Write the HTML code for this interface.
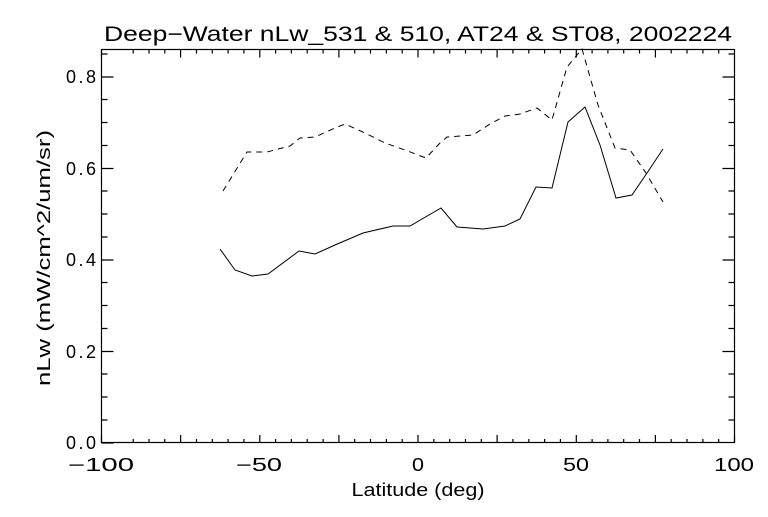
<!DOCTYPE html>
<html><head><style>
body{margin:0;background:#fff}
svg text{font-family:"Liberation Sans",sans-serif;fill:#000}
</style></head><body>
<svg width="768" height="512" viewBox="0 0 768 512" xmlns="http://www.w3.org/2000/svg">
<rect width="768" height="512" fill="#fff"/>
<text x="418" y="41" font-size="21" text-anchor="middle" textLength="628" lengthAdjust="spacingAndGlyphs">Deep−Water nLw_531 &amp; 510, AT24 &amp; ST08, 2002224</text>
<g stroke="#000" stroke-width="1.2" fill="none">
<rect x="101.5" y="49.5" width="633" height="393"/>
<path d="M101.5 443v-8M180.6 443v-8M259.8 443v-8M338.9 443v-8M418 443v-8M497.1 443v-8M576.3 443v-8M655.4 443v-8M734.5 443v-8"/>
<path d="M101.5 49.5v8M180.6 49.5v8M259.8 49.5v8M338.9 49.5v8M418 49.5v8M497.1 49.5v8M576.3 49.5v8M655.4 49.5v8"/>
<path d="M133.2 443v-4M149 443v-4M164.8 443v-4M196.5 443v-4M212.3 443v-4M228.1 443v-4M243.9 443v-4M275.6 443v-4M291.4 443v-4M307.2 443v-4M323.1 443v-4M354.7 443v-4M370.5 443v-4M386.4 443v-4M402.2 443v-4M433.8 443v-4M449.7 443v-4M465.5 443v-4M481.3 443v-4"/>
<path d="M101.5 443h12M101.5 351.5h12M101.5 260h12M101.5 168.5h12M101.5 77h12"/>
<path d="M101.5 420h6M101.5 397h6M101.5 374h6M101.5 328.5h6M101.5 305.5h6M101.5 282.5h6M101.5 237h6M101.5 214h6M101.5 191h6M101.5 145.5h6M101.5 122.5h6M101.5 99.5h6M101.5 54h6"/>
<path d="M734.5 351.5h-12M734.5 260h-12M734.5 168.5h-12M734.5 77h-12"/>
<path d="M734.5 420h-6M734.5 397h-6M734.5 374h-6M734.5 328.5h-6M734.5 305.5h-6M734.5 282.5h-6M734.5 237h-6M734.5 214h-6M734.5 191h-6M734.5 145.5h-6M734.5 122.5h-6M734.5 99.5h-6M734.5 54h-6"/>
<path d="M512.9 443v-4M528.8 443v-4M544.6 443v-4M560.4 443v-4M592.1 443v-4M607.9 443v-4M623.7 443v-4M639.5 443v-4M671.2 443v-4M687 443v-4M702.9 443v-4M718.7 443v-4"/>
<path d="M133.2 49.5v4M149 49.5v4M164.8 49.5v4M196.5 49.5v4M212.3 49.5v4M228.1 49.5v4M243.9 49.5v4M275.6 49.5v4M291.4 49.5v4M307.2 49.5v4M323.1 49.5v4M354.7 49.5v4M370.5 49.5v4M386.4 49.5v4M402.2 49.5v4M433.8 49.5v4M449.7 49.5v4M465.5 49.5v4M481.3 49.5v4M512.9 49.5v4M528.8 49.5v4M544.6 49.5v4M560.4 49.5v4M592.1 49.5v4M607.9 49.5v4M623.7 49.5v4M639.5 49.5v4M671.2 49.5v4M687 49.5v4M702.9 49.5v4M718.7 49.5v4"/>
<polyline stroke-width="1" points="220,249 235,270 252,276 268,274 299,251 315,254 335,245 363,233 393,226 410,226 441,208 457,227 483,229 505,226 520,219 536,187 552,188 568,122 585,107 600,145 616,198 632,195 647,173 663,149"/>
<polyline stroke-width="1" stroke-dasharray="6,5" points="223,191 247,152 267,152 290,146 300,138 315,137 335,128 345,124 365,133 385,143 405,150 426,158 440,143 447,137 473,135 490,124 505,116 520,114 537,108 552,120 567,67 582,49 598,105 615,148 630,150 646,173 663,202"/>
</g>
<g font-size="18" text-anchor="end" lengthAdjust="spacingAndGlyphs">
<text x="96" y="449" textLength="30">0.0</text><text x="96" y="358" textLength="30">0.2</text><text x="96" y="266" textLength="30">0.4</text><text x="96" y="175" textLength="30">0.6</text><text x="96" y="83" textLength="30">0.8</text>
</g>
<g font-size="18" text-anchor="middle">
<text x="101" y="471" textLength="66" lengthAdjust="spacingAndGlyphs">−100</text><text x="259" y="471" textLength="46" lengthAdjust="spacingAndGlyphs">−50</text><text x="418" y="471" textLength="12" lengthAdjust="spacingAndGlyphs">0</text><text x="576" y="471" textLength="26" lengthAdjust="spacingAndGlyphs">50</text><text x="734" y="471" textLength="40" lengthAdjust="spacingAndGlyphs">100</text>
<text x="418" y="496" textLength="133" lengthAdjust="spacingAndGlyphs">Latitude (deg)</text>
</g>
<text font-size="18" text-anchor="middle" textLength="256" lengthAdjust="spacingAndGlyphs" transform="translate(50 258) rotate(-90)">nLw (mW/cm^2/um/sr)</text>
</svg>
</body></html>
